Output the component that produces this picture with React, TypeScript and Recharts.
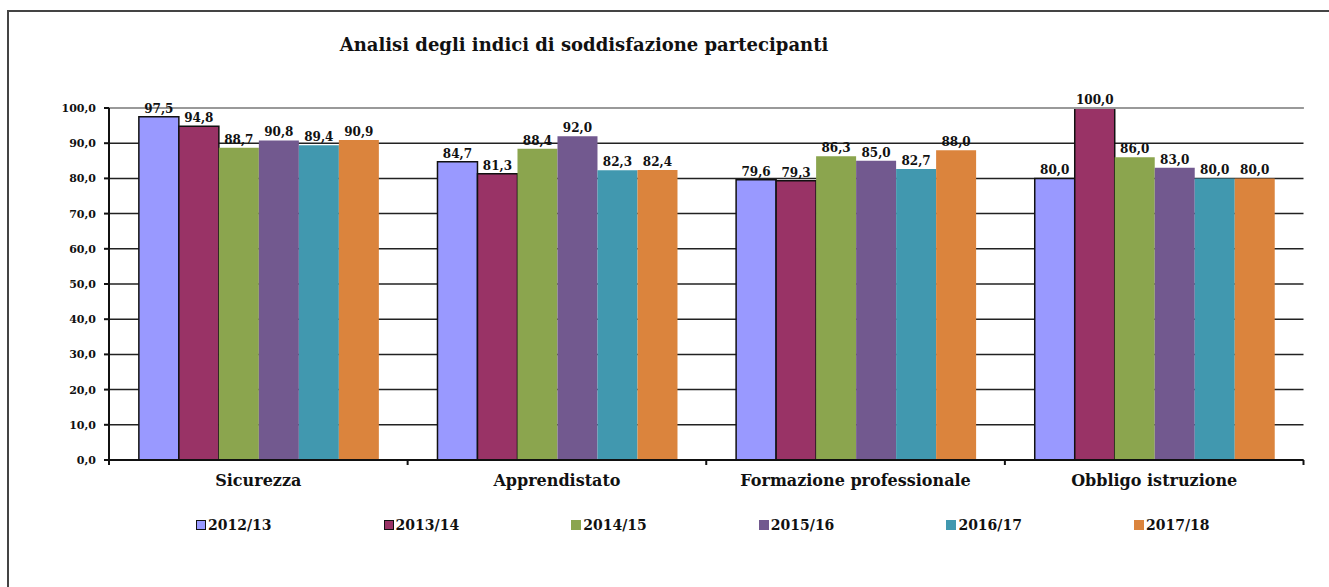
import { BarChart, Bar, XAxis, YAxis, CartesianGrid, LabelList, ReferenceLine } from "recharts"

const categories = ["Sicurezza", "Apprendistato", "Formazione professionale", "Obbligo istruzione"]
const seriesNames = ["2012/13", "2013/14", "2014/15", "2015/16", "2016/17", "2017/18"]
const colors = ["#9999FF", "#993366", "#8BA54E", "#72598F", "#4198AF", "#DB843D"]
const outlined = [true, true, false, false, false, false]

const v2012 = [97.5, 84.7, 79.6, 80.0]
const v2013 = [94.8, 81.3, 79.3, 100.0]
const v2014 = [88.7, 88.4, 86.3, 86.0]
const v2015 = [90.8, 92.0, 85.0, 83.0]
const v2016 = [89.4, 82.3, 82.7, 80.0]
const v2017 = [90.9, 82.4, 88.0, 80.0]
const seriesValues = [v2012, v2013, v2014, v2015, v2016, v2017]

const yTicks = [0, 10, 20, 30, 40, 50, 60, 70, 80, 90, 100]

const data = categories.map((name, i) => {
  const row: Record<string, string | number> = { name }
  seriesNames.forEach((s, k) => (row[s] = seriesValues[k][i]))
  return row
})

const FONT = "'DejaVu Serif', serif"
const fmt = (v: number) => v.toFixed(1).replace(".", ",")

// plot area in page coords
const PLOT_LEFT = 109
const PLOT_RIGHT = 1303.5
const band = (PLOT_RIGHT - PLOT_LEFT) / categories.length

function CategoryTick(props: any) {
  const { x, y, payload, index } = props
  const axisY = y - 15
  const l = x - band / 2
  const r = x + band / 2
  return (
    <g>
      <line x1={l} x2={l} y1={axisY} y2={axisY + 5} stroke="#111" strokeWidth={2} />
      {index === categories.length - 1 && (
        <line x1={r} x2={r} y1={axisY} y2={axisY + 5} stroke="#111" strokeWidth={2} />
      )}
      <text x={x} y={y} dy="0.71em" textAnchor="middle" fontFamily={FONT} fontWeight="bold" fontSize={16} fill="#111">
        {payload.value}
      </text>
    </g>
  )
}

export default function App() {
  return (
    <div style={{ position: "absolute", left: 0, top: 0, width: 1329, height: 587, overflow: "hidden", background: "#fff" }}>
      <div
        style={{
          position: "absolute",
          left: 7,
          top: 10,
          width: 1400,
          height: 700,
          borderTop: "2px solid #444",
          borderLeft: "2px solid #444",
        }}
      />
      <div
        style={{
          position: "absolute",
          left: 0,
          top: 35,
          width: 1168,
          textAlign: "center",
          fontFamily: FONT,
          fontWeight: "bold",
          fontSize: 18,
          lineHeight: "20px",
          color: "#111",
        }}
      >
        Analisi degli indici di soddisfazione partecipanti
      </div>
      <div style={{ position: "absolute", left: 0, top: 0 }}>
        <BarChart
          width={1329}
          height={587}
          data={data}
          margin={{ top: 108, right: 1329 - PLOT_RIGHT, left: PLOT_LEFT - 60, bottom: 87 }}
          barCategoryGap="10%"
          barGap={0}
        >
          <CartesianGrid vertical={false} stroke="#222" strokeWidth={1.5} />
          <ReferenceLine y={100} stroke="#999" strokeWidth={2} />
          <XAxis
            dataKey="name"
            height={40}
            axisLine={{ stroke: "#111", strokeWidth: 2 }}
            tickLine={false}
            tickSize={5}
            tickMargin={10}
            tick={<CategoryTick />}
            interval={0}
          />
          <YAxis
            domain={[0, 100]}
            ticks={yTicks}
            width={60}
            tickFormatter={fmt}
            tickSize={5}
            tickMargin={8}
            axisLine={{ stroke: "#111", strokeWidth: 2 }}
            tickLine={{ stroke: "#111", strokeWidth: 2 }}
            tick={{ fontFamily: FONT, fontWeight: "bold", fontSize: 11, fill: "#111" }}
          />
          <YAxis
            yAxisId="r"
            orientation="right"
            width={0}
            tick={false}
            tickLine={false}
            axisLine={{ stroke: "#999", strokeWidth: 2 }}
          />
          {seriesNames.map((s, k) => (
            <Bar
              key={s}
              dataKey={s}
              fill={colors[k]}
              stroke={outlined[k] ? "#111" : "none"}
              strokeWidth={outlined[k] ? 1.5 : 0}
              isAnimationActive={false}
            >
              <LabelList
                dataKey={s}
                position="top"
                offset={4}
                formatter={(v: any) => fmt(Number(v))}
                style={{ fontFamily: FONT, fontWeight: "bold", fontSize: 12, fill: "#111" }}
              />
            </Bar>
          ))}
        </BarChart>
      </div>
      {seriesNames.map((s, k) => (
        <div
          key={s}
          style={{
            position: "absolute",
            left: 196 + k * 187.6,
            top: 516,
            display: "flex",
            alignItems: "center",
            fontFamily: FONT,
            fontWeight: "bold",
            fontSize: 14,
            color: "#111",
            lineHeight: "18px",
          }}
        >
          <span
            style={{
              display: "inline-block",
              width: outlined[k] ? 8 : 10,
              height: outlined[k] ? 8 : 10,
              background: colors[k],
              border: outlined[k] ? "1px solid #111" : "none",
              marginRight: 2,
            }}
          />
          {s}
        </div>
      ))}
    </div>
  )
}
